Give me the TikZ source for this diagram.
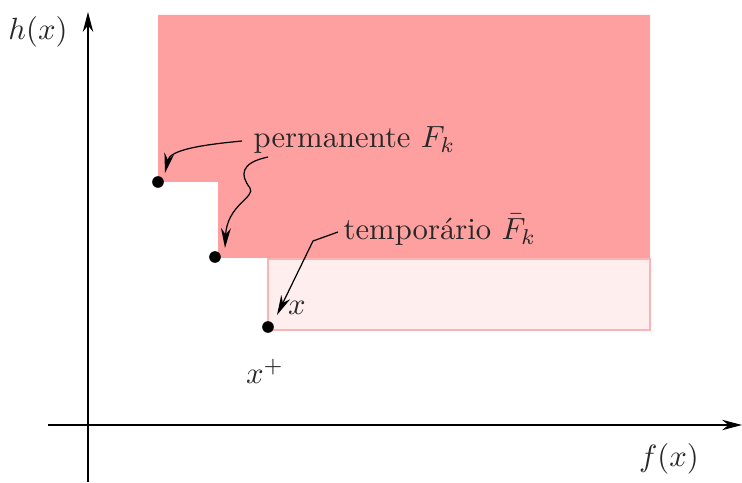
\documentclass[tikz,border=0pt]{standalone}
\usetikzlibrary{arrows.meta}
\definecolor{darkreg}{RGB}{255,160,160}
\definecolor{lightreg}{RGB}{255,238,238}
\definecolor{lightedge}{RGB}{250,180,180}
\definecolor{txt}{RGB}{40,40,40}
\begin{document}
\begin{tikzpicture}[x=0.326pt,y=-0.326pt,
  axis/.style={draw=black,line width=0.4pt,-{Stealth[length=6.5pt,width=3.4pt]}},
  pt/.style={circle,fill=black,inner sep=0pt,minimum size=3.8pt},
  lbl/.style={text=txt,inner sep=1pt},
  callout/.style={draw=black,line width=0.4pt,-{Stealth[length=6.5pt,width=3.2pt]}}]
\useasboundingbox (0,0) rectangle (742,483);
% regions
\fill[darkreg] (158,15) -- (650,15) -- (650,258) -- (218,258) -- (218,182) -- (158,182) -- cycle;
\filldraw[fill=lightreg,draw=lightedge,line width=0.5pt] (268,259) rectangle (650,330);
% axes
\draw[axis] (88,482) -- (88,12);
\draw[axis] (48,425) -- (742,425);
\node[lbl] (hx) at (38,32) {$h(x)$};
\node[lbl] (fx) at (669,459) {$f(x)$};
% points
\node[pt] (p1) at (158,182) {};
\node[pt] (p2) at (215,257) {};
\node[pt] (p3) at (268,327) {};
\node[lbl] (xl) at (297,308) {$x$};
\node[lbl] (xp) at (265,371) {$x^+$};
% labels
\node[lbl,anchor=west] (perm) at (250,140) {permanente $F_k$};
\node[lbl,anchor=west] (temp) at (340,230) {tempor\'ario $\bar{F}_k$};
% callouts
\coordinate (t1) at (165,173);
\coordinate (t2) at (225,248);
\coordinate (t3) at (277,315);
\draw[callout] (perm.west) ++(-8,1) .. controls (200,145) and (170,150) .. (t1);
\draw[callout] (268,157) .. controls (240,163) and (240,175) .. (250,188)
   .. controls (256,197) and (227,205) .. (t2);
\draw[callout] (temp.west) ++(-2,2) -- (313,241) -- (t3);
\end{tikzpicture}
\end{document}
